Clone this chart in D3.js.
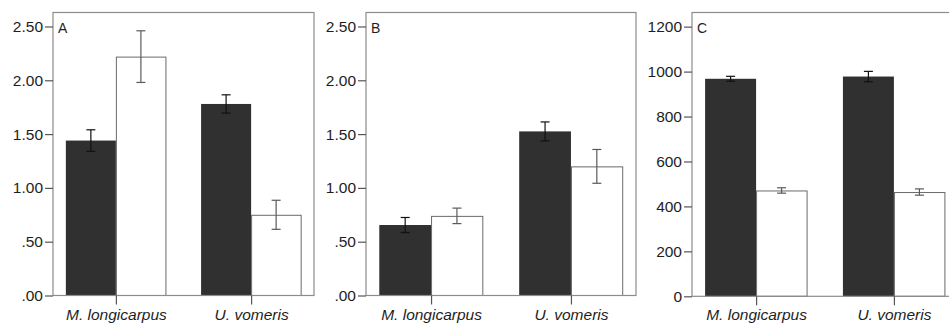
<!DOCTYPE html>
<html>
<head>
<meta charset="utf-8">
<script src="https://cdn.jsdelivr.net/npm/d3@7"></script>
<style>
  html, body { margin: 0; padding: 0; background: #fff; }
  svg { display: block; }
</style>
</head>
<body>
<div id="chart"></div>
<script>
// Data
const categories = ["M. longicarpus", "U. vomeris"];
const panelLetters = ["A", "B", "C"];

const darkA = [1.44, 1.78];
const whiteA = [2.22, 0.75];
const darkErrA = [0.10, 0.085];
const whiteErrA = [0.24, 0.135];

const darkB = [0.655, 1.525];
const whiteB = [0.74, 1.20];
const darkErrB = [0.07, 0.088];
const whiteErrB = [0.072, 0.157];

const darkC = [968, 978];
const whiteC = [471, 464];
const darkErrC = [11, 23];
const whiteErrC = [12, 14];

const tickValuesAB = [0, 0.5, 1, 1.5, 2, 2.5];
const tickLabelsAB = [".00", ".50", "1.00", "1.50", "2.00", "2.50"];
const tickValuesC = [0, 200, 400, 600, 800, 1000, 1200];
const tickLabelsC = ["0", "200", "400", "600", "800", "1000", "1200"];

const width = 949, height = 326;
const frameColor = "#8c8c8c";
const darkFill = "#303030";
const textColor = "#1e1e1e";
const font = "'Liberation Sans', Arial, sans-serif";

// Panel geometry (pixels)
const panels = [
  { left: 53, right: 314, top: 12.5, bottom: 295.5, yMax: 2.63,
    dark: darkA, white: whiteA, darkErr: darkErrA, whiteErr: whiteErrA,
    ticks: tickValuesAB, labels: tickLabelsAB },
  { left: 366, right: 636, top: 12.5, bottom: 295.5, yMax: 2.63,
    dark: darkB, white: whiteB, darkErr: darkErrB, whiteErr: whiteErrB,
    ticks: tickValuesAB, labels: tickLabelsAB },
  { left: 692, right: 958, top: 12.5, bottom: 296.3, yMax: 1263,
    dark: darkC, white: whiteC, darkErr: darkErrC, whiteErr: whiteErrC,
    ticks: tickValuesC, labels: tickLabelsC }
];

const svg = d3.select("#chart").append("svg")
  .attr("width", width)
  .attr("height", height);

panels.forEach((p, pi) => {
  const g = svg.append("g");

  const x = d3.scalePoint()
    .domain(categories)
    .range([p.left, p.right])
    .padding(0.465);

  const y = d3.scaleLinear()
    .domain([0, p.yMax])
    .range([p.bottom, p.top]);

  const barW = x.step() * 0.37;

  // Bars
  categories.forEach((c, i) => {
    const cx = x(c);
    g.append("rect")
      .attr("x", cx - barW)
      .attr("y", y(p.dark[i]))
      .attr("width", barW)
      .attr("height", y(0) - y(p.dark[i]))
      .attr("fill", darkFill);
    g.append("rect")
      .attr("x", cx + 0.5)
      .attr("y", y(p.white[i]) + 0.5)
      .attr("width", barW - 0.5)
      .attr("height", y(0) - y(p.white[i]) - 0.5)
      .attr("fill", "#fff")
      .attr("stroke", "#6a6a6a")
      .attr("stroke-width", 1);
  });

  // Error bars
  const errBar = (cx, v, e, color) => {
    const cap = 4.5;
    g.append("line")
      .attr("x1", cx).attr("x2", cx)
      .attr("y1", y(v + e)).attr("y2", y(v - e))
      .attr("stroke", color).attr("stroke-width", 1.2);
    [v + e, v - e].forEach(yy => {
      g.append("line")
        .attr("x1", cx - cap).attr("x2", cx + cap)
        .attr("y1", y(yy)).attr("y2", y(yy))
        .attr("stroke", color).attr("stroke-width", 1.2);
    });
  };
  categories.forEach((c, i) => {
    errBar(x(c) - barW / 2, p.dark[i], p.darkErr[i], "#111");
    errBar(x(c) + barW / 2, p.white[i], p.whiteErr[i], "#5a5a5a");
  });

  // Frame
  g.append("rect")
    .attr("x", p.left)
    .attr("y", p.top)
    .attr("width", p.right - p.left)
    .attr("height", p.bottom - p.top)
    .attr("fill", "none")
    .attr("stroke", frameColor)
    .attr("stroke-width", 1.2);

  // Y axis
  const yAxis = d3.axisLeft(y)
    .tickValues(p.ticks)
    .tickSize(8)
    .tickPadding(2)
    .tickFormat((d, i) => p.labels[i]);
  const ya = g.append("g")
    .attr("transform", `translate(${p.left},0)`)
    .attr("font-size", null)
    .attr("font-family", null)
    .call(yAxis);
  ya.select(".domain").remove();
  ya.selectAll(".tick line").attr("stroke", "#555").attr("stroke-width", 1.2);
  ya.selectAll(".tick text")
    .attr("fill", textColor)
    .style("font-size", "15.5px")
    .style("font-family", font);

  // X axis
  const xAxis = d3.axisBottom(x)
    .tickSize(9)
    .tickPadding(4);
  const xa = g.append("g")
    .attr("transform", `translate(0,${p.bottom})`)
    .call(xAxis);
  xa.select(".domain").remove();
  xa.selectAll(".tick line").attr("stroke", "#555").attr("stroke-width", 1.2);
  xa.selectAll(".tick text")
    .attr("fill", textColor)
    .style("font-size", "15.5px")
    .style("font-style", "italic")
    .style("font-family", font);

  // Panel letter
  g.append("text")
    .attr("x", p.left + 5)
    .attr("y", p.top + 20)
    .attr("fill", textColor)
    .style("font-size", "14px")
    .style("font-family", font)
    .text(panelLetters[pi]);
});
</script>
</body>
</html>
